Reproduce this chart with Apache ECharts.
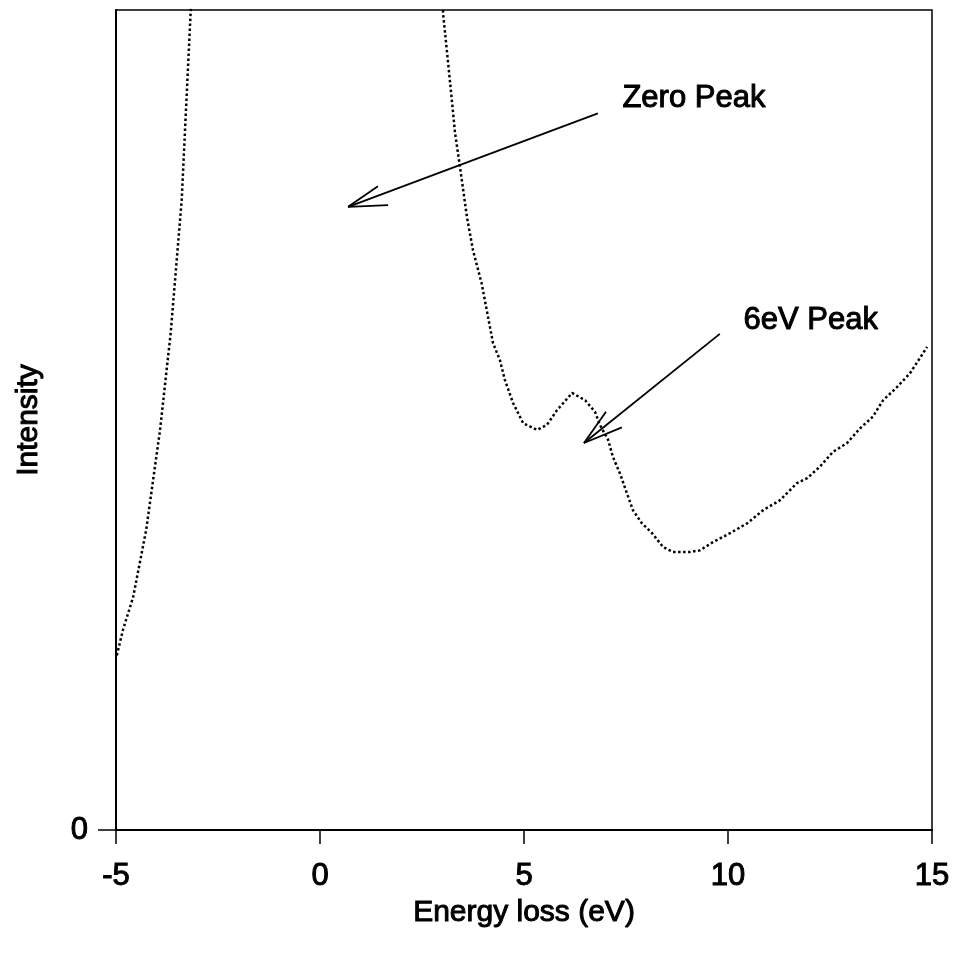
<!DOCTYPE html>
<html>
<head>
<meta charset="utf-8">
<script src="https://cdn.jsdelivr.net/npm/echarts@6/dist/echarts.min.js"></script>
<style>
  html, body { margin: 0; padding: 0; background: #fff; }
  #chart { width: 955px; height: 956px; }
</style>
</head>
<body>
<div id="chart"></div>
<script>
// energy loss (eV) and intensity (arbitrary units, 0 at the axis)
// the two points at 104 sit above the frame and get clipped, so the
// curve leaves the plot on both sides of the zero peak
const energy = [
  -4.98, -4.83, -4.58, -4.26, -3.92, -3.66, -3.39, -3.17, -3.1,
  2.98, 3.02, 3.19, 3.31, 3.43, 3.60, 3.75, 3.96, 4.24, 4.41, 4.53, 4.73,
  4.98, 5.32, 5.56, 5.81, 6.18, 6.50, 6.74, 6.86, 7.06, 7.18, 7.35, 7.52,
  7.67, 7.89, 8.14, 8.41, 8.65, 9.07, 9.31, 9.63, 10.05, 10.47, 10.86,
  11.27, 11.69, 11.94, 12.25, 12.57, 12.92, 13.24, 13.55, 13.80, 14.14,
  14.46, 14.88
]
const intensity = [
  21.3, 24.4, 28.4, 36.6, 48.8, 60.6, 76.8, 99.8, 104,
  104, 99.4, 91.1, 85.0, 80.9, 74.8, 70.7, 66.7, 59.4, 57.3, 54.9, 52.1,
  49.6, 48.8, 49.4, 51.2, 53.3, 52.4, 51.0, 49.4, 47.6, 45.5, 43.5, 41.1,
  39.0, 37.4, 36.2, 34.5, 33.9, 33.9, 34.1, 35.1, 36.2, 37.4, 39.0,
  40.2, 42.3, 42.9, 44.3, 46.1, 47.2, 49.0, 50.4, 52.4, 54.0,
  55.7, 58.9
]

const xTicks = [-5, 0, 5, 10, 15]
const yTicks = [0]

// annotation texts and where they sit (data units)
const noteTexts = ['Zero Peak', '6eV Peak']
const notePos = [[7.40, 89.2], [10.37, 62.1]]

// arrow shaft and the two strokes of each open head: [from, to]
const arrowSegs = [
  [[6.81, 87.4], [0.69, 76.0]],
  [[0.69, 76.0], [1.42, 78.5]],
  [[0.69, 76.0], [1.67, 76.2]],
  [[9.80, 60.5], [6.47, 47.2]],
  [[6.47, 47.2], [7.01, 51.0]],
  [[6.47, 47.2], [7.40, 49.1]]
]

const font = '"Liberation Sans", Arial, sans-serif'
const textStyle = {
  color: '#000',
  fontFamily: font,
  fontSize: 31,
  textBorderColor: '#000',
  textBorderWidth: 1
}

const chart = echarts.init(document.getElementById('chart'))

chart.setOption({
  animation: false,
  backgroundColor: '#fff',
  grid: {
    left: 116,
    right: 23,
    top: 10,
    bottom: 126,
    show: true,
    borderColor: '#000',
    borderWidth: 1.5,
    backgroundColor: 'transparent'
  },
  xAxis: {
    type: 'value',
    min: -5,
    max: 15,
    interval: 5,
    name: 'Energy loss (eV)',
    nameLocation: 'middle',
    nameGap: 66,
    nameTextStyle: { ...textStyle, fontSize: 30 },
    axisLine: { onZero: false, lineStyle: { color: '#000', width: 2 } },
    axisTick: {
      show: true,
      length: 14,
      customValues: xTicks,
      lineStyle: { color: '#000', width: 1.5 }
    },
    axisLabel: {
      ...textStyle,
      margin: 31,
      customValues: xTicks
    },
    splitLine: { show: false }
  },
  yAxis: {
    type: 'value',
    min: 0,
    max: 100,
    name: 'Intensity',
    nameLocation: 'middle',
    nameGap: 72,
    nameTextStyle: { ...textStyle, fontSize: 30 },
    axisLine: { show: true, onZero: false, lineStyle: { color: '#000', width: 2 } },
    axisTick: {
      show: true,
      length: 18,
      customValues: yTicks,
      lineStyle: { color: '#000', width: 1.5 }
    },
    axisLabel: {
      ...textStyle,
      margin: 28,
      customValues: yTicks
    },
    splitLine: { show: false }
  },
  series: [
    {
      type: 'line',
      data: energy.map((x, i) => [x, intensity[i]]),
      showSymbol: false,
      clip: true,
      silent: true,
      lineStyle: { color: '#000', width: 2.5, type: [2.5, 2.5] },
      markLine: {
        silent: true,
        symbol: ['none', 'none'],
        label: { show: false },
        lineStyle: { color: '#000', width: 1.8, type: 'solid' },
        data: arrowSegs.map(([a, b]) => [{ coord: a }, { coord: b }])
      },
      markPoint: {
        silent: true,
        symbol: 'rect',
        symbolSize: 1,
        itemStyle: { color: 'transparent' },
        label: {
          show: true,
          position: 'right',
          distance: 0,
          ...textStyle,
          formatter: p => p.name
        },
        data: noteTexts.map((t, i) => ({ name: t, coord: notePos[i] }))
      }
    }
  ]
})
</script>
</body>
</html>
